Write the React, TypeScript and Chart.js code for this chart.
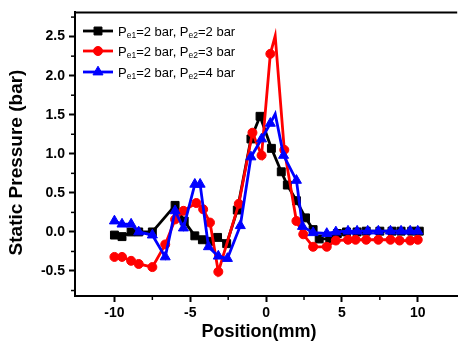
import React, { useEffect, useRef } from "react";
import { Chart, registerables } from "chart.js";
import { drawPoint } from "chart.js/helpers";

Chart.register(...registerables);

const FONT = "'Liberation Sans', Arial, Helvetica, sans-serif";

const X_TITLE = "Position(mm)";
const Y_TITLE = "Static Pressure (bar)";

const X_MIN = -12.6;
const X_MAX = 12.6;
const Y_MIN = -0.82;
const Y_MAX = 2.81;

const X_TICKS = [-10, -5, 0, 5, 10];
const X_MINOR_TICKS = [-7.5, -2.5, 2.5, 7.5];
const Y_TICKS = [-0.5, 0, 0.5, 1, 1.5, 2, 2.5];
const Y_MINOR_TICKS = [-0.75, -0.25, 0.25, 0.75, 1.25, 1.75, 2.25, 2.75];

const SERIES_LABELS = [
  "Pe1=2 bar, Pe2=2 bar",
  "Pe1=2 bar, Pe2=3 bar",
  "Pe1=2 bar, Pe2=4 bar",
];

const BLACK_X = [-10, -9.5, -8.9, -8.4, -7.5, -6.0, -5.4, -4.7, -4.2, -3.7, -3.2, -2.6, -1.9, -1.0, -0.4, 0.35, 1.0, 1.4, 2.0, 2.6, 3.1, 3.5, 4.2, 4.7, 5.3, 6.0, 6.6, 7.5, 8.3, 8.9, 9.6, 10.1];
const BLACK_Y = [-0.04, -0.06, 0.0, 0.0, 0.0, 0.34, 0.14, -0.05, -0.1, -0.12, -0.07, -0.15, 0.28, 1.19, 1.48, 1.07, 0.77, 0.6, 0.4, 0.18, 0.03, -0.09, -0.09, -0.02, 0.0, 0.0, 0.01, 0.01, 0.01, 0.01, 0.01, 0.01];
const BLACK_UNMARKED: number[] = [];

const RED_X = [-10, -9.5, -8.9, -8.4, -7.5, -6.65, -6.0, -5.45, -4.6, -4.15, -3.7, -3.15, -1.8, -0.9, -0.3, 0.28, 0.6, 1.2, 2.0, 2.45, 3.1, 4.0, 4.6, 5.4, 5.9, 6.6, 7.4, 8.2, 8.8, 9.5, 10.0];
const RED_Y = [-0.32, -0.32, -0.37, -0.41, -0.45, -0.16, 0.16, 0.27, 0.37, 0.29, 0.12, -0.51, 0.36, 1.27, 0.98, 2.28, 2.51, 1.05, 0.14, -0.03, -0.19, -0.19, -0.11, -0.1, -0.1, -0.1, -0.1, -0.1, -0.11, -0.11, -0.1];
const RED_UNMARKED = [0.6];

const BLUE_X = [-10, -9.5, -8.9, -8.4, -7.5, -6.65, -6.0, -5.45, -4.7, -4.35, -3.8, -3.15, -2.55, -1.7, -1.0, -0.3, 0.28, 0.6, 1.15, 2.0, 2.4, 3.1, 4.0, 4.6, 5.4, 6.0, 6.7, 7.4, 8.2, 8.9, 9.5, 10.0];
const BLUE_Y = [0.14, 0.1, 0.1, 0.0, -0.04, -0.32, 0.27, 0.05, 0.61, 0.61, -0.19, -0.31, -0.34, 0.08, 0.96, 1.19, 1.39, 1.51, 0.98, 0.66, 0.07, -0.01, -0.02, 0.0, 0.01, 0.01, 0.01, 0.01, 0.01, 0.01, 0.01, 0.01];
const BLUE_UNMARKED = [0.6];

const COLORS = ["#000000", "#ff0000", "#0000ff"];

function makeDataset(
  label: string,
  xs: number[],
  ys: number[],
  color: string,
  pointStyle: string,
  radius: number,
  unmarked: number[],
  order: number
) {
  return {
    label,
    data: xs.map((x, i) => ({ x, y: ys[i] })),
    borderColor: color,
    backgroundColor: color,
    borderWidth: 2.8,
    pointStyle,
    pointRadius: (c: any) => (c.raw && unmarked.includes(c.raw.x) ? 0 : radius),
    pointHoverRadius: radius,
    pointBackgroundColor: color,
    pointBorderColor: color,
    pointBorderWidth: 1,
    tension: 0,
    order,
    clip: false as any,
  };
}

const decorPlugin = {
  id: "decor",
  afterDraw(chart: any) {
    const { ctx, chartArea, scales } = chart;
    ctx.save();
    ctx.strokeStyle = "#000";
    ctx.lineWidth = 2;
    ctx.beginPath();
    ctx.moveTo(chartArea.left - 1, chartArea.top);
    ctx.lineTo(chartArea.right, chartArea.top);
    ctx.stroke();

    ctx.lineWidth = 1.5;
    X_MINOR_TICKS.forEach((v) => {
      const px = scales.x.getPixelForValue(v);
      ctx.beginPath();
      ctx.moveTo(px, chartArea.bottom);
      ctx.lineTo(px, chartArea.bottom + 4);
      ctx.stroke();
    });
    Y_MINOR_TICKS.forEach((v) => {
      const py = scales.y.getPixelForValue(v);
      ctx.beginPath();
      ctx.moveTo(chartArea.left, py);
      ctx.lineTo(chartArea.left - 4, py);
      ctx.stroke();
    });

    ctx.fillStyle = "#000";
    ctx.textAlign = "center";
    ctx.textBaseline = "middle";
    ctx.font = `bold 18px ${FONT}`;
    ctx.fillText(X_TITLE, 259, 332);
    ctx.font = `bold 19px ${FONT}`;
    ctx.translate(16.5, 162.5);
    ctx.rotate(-Math.PI / 2);
    ctx.fillText(Y_TITLE, 0, 0);
    ctx.restore();

    // legend with subscripts
    const lx0 = 83;
    const lx1 = 113;
    const rowY = [31, 51, 72];
    chart.data.datasets.forEach((ds: any, i: number) => {
      const y = rowY[i];
      ctx.save();
      ctx.strokeStyle = ds.borderColor;
      ctx.fillStyle = ds.borderColor;
      ctx.lineWidth = 2.8;
      ctx.beginPath();
      ctx.moveTo(lx0, y);
      ctx.lineTo(lx1, y);
      ctx.stroke();
      ctx.lineWidth = 1;
      const r = ds.pointStyle === "rect" ? 5.6 : ds.pointStyle === "triangle" ? 5.8 : 4.5;
      drawPoint(ctx, { pointStyle: ds.pointStyle, radius: r, rotation: 0, borderWidth: 1 } as any, (lx0 + lx1) / 2, y);
      ctx.fillStyle = "#000";
      ctx.textAlign = "left";
      ctx.textBaseline = "alphabetic";
      const parts = String(ds.label).split(/(?<=P)(e\d)/);
      let x = 118;
      const base = y + 4.5;
      parts.forEach((p: string, k: number) => {
        const sub = k % 2 === 1;
        ctx.font = sub ? `8.5px ${FONT}` : `13px ${FONT}`;
        ctx.fillText(p, x, sub ? base + 2 : base);
        x += ctx.measureText(p).width;
      });
      ctx.restore();
    });
  },
};

export default function App() {
  const canvasRef = useRef<HTMLCanvasElement | null>(null);

  useEffect(() => {
    const canvas = canvasRef.current;
    if (!canvas) return;
    const tickFont = { family: FONT, size: 14, weight: "bold" as const };
    const chart = new Chart(canvas, {
      type: "line",
      data: {
        datasets: [
          makeDataset(SERIES_LABELS[0], BLACK_X, BLACK_Y, COLORS[0], "rect", 5.6, BLACK_UNMARKED, 3),
          makeDataset(SERIES_LABELS[1], RED_X, RED_Y, COLORS[1], "circle", 4.5, RED_UNMARKED, 2),
          makeDataset(SERIES_LABELS[2], BLUE_X, BLUE_Y, COLORS[2], "triangle", 5.8, BLUE_UNMARKED, 1),
        ] as any,
      },
      options: {
        responsive: false,
        maintainAspectRatio: false,
        devicePixelRatio: 1,
        animation: false,
        layout: { padding: { left: 0, top: 8, right: 0, bottom: 0 } },
        plugins: {
          legend: { display: false },
          tooltip: { enabled: false },
        },
        scales: {
          x: {
            type: "linear",
            min: X_MIN,
            max: X_MAX,
            afterBuildTicks: (axis: any) => {
              axis.ticks = X_TICKS.map((v) => ({ value: v }));
            },
            afterFit: (axis: any) => {
              axis.height = 51;
            },
            ticks: {
              callback: (v: any) => String(v),
              font: tickFont,
              color: "#000",
              padding: 3,
              maxRotation: 0,
              autoSkip: false,
            },
            grid: {
              display: true,
              drawOnChartArea: false,
              drawTicks: true,
              tickLength: 6,
              tickWidth: 2,
              tickColor: "#000",
            },
            border: { display: true, color: "#000", width: 2 },
          },
          y: {
            type: "linear",
            min: Y_MIN,
            max: Y_MAX,
            afterBuildTicks: (axis: any) => {
              axis.ticks = Y_TICKS.map((v) => ({ value: v }));
            },
            afterFit: (axis: any) => {
              axis.width = 75;
            },
            ticks: {
              callback: (v: any) => Number(v).toFixed(1),
              font: tickFont,
              color: "#000",
              padding: 4,
              autoSkip: false,
            },
            grid: {
              display: true,
              drawOnChartArea: false,
              drawTicks: true,
              tickLength: 6,
              tickWidth: 2,
              tickColor: "#000",
            },
            border: { display: true, color: "#000", width: 2 },
          },
        },
      },
      plugins: [decorPlugin],
    });
    return () => chart.destroy();
  }, []);

  return (
    <div
      style={{
        position: "fixed",
        left: 0,
        top: 0,
        width: 460,
        height: 347,
        overflow: "hidden",
        background: "#fff",
      }}
    >
      <canvas ref={canvasRef} width={464} height={347} style={{ display: "block" }} />
    </div>
  );
}
